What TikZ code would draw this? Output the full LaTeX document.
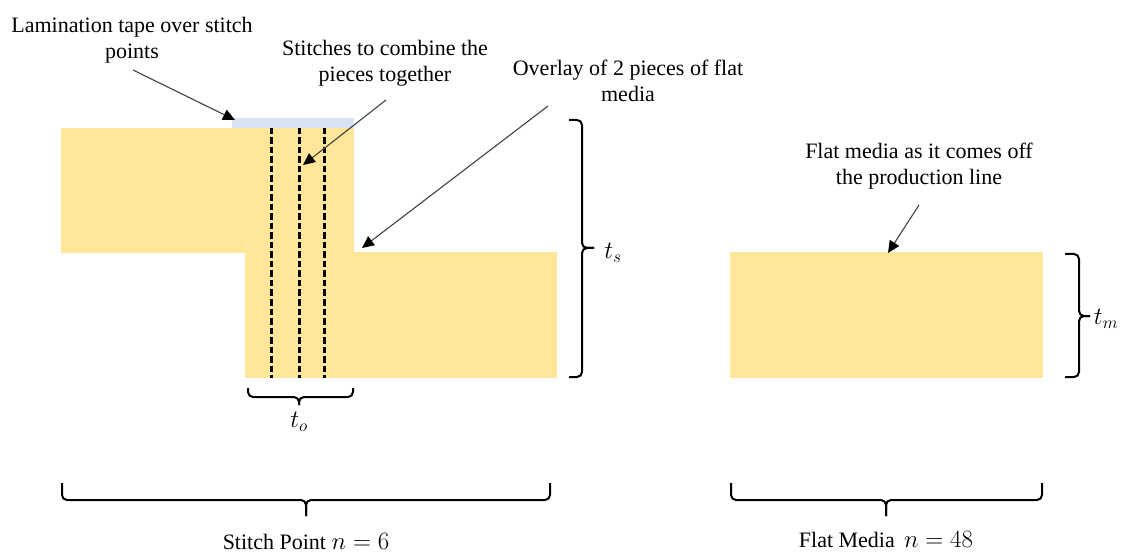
\documentclass[tikz,border=0pt]{standalone}
\usepackage{fontspec}
\setmainfont{Liberation Serif}
\usetikzlibrary{arrows.meta}
\definecolor{media}{HTML}{FFE699}
\definecolor{tape}{HTML}{DAE3F3}
\definecolor{leader}{HTML}{404040}
\newcommand{\bigmath}[1]{{\fontsize{25}{28}\selectfont$#1$}}
\begin{document}
\begin{tikzpicture}[x=1pt,y=-1pt,
  every node/.style={font=\fontsize{22}{26}\selectfont},
  lbl/.style={align=center, inner sep=0pt},
  mlbl/.style={font=\fontsize{25}{28}\selectfont},
  block/.style={fill=#1, draw=none, inner sep=0pt, anchor=north west},
  callout/.style={leader, line width=1.1pt, -{Triangle[length=12pt,width=11pt,black]}},
  stitchline/.style={black, line width=3pt, dash pattern=on 6.5pt off 3pt},
  brc/.style={black, line width=2pt, rounded corners=5pt},
]
\useasboundingbox (0,0) rectangle (1124,553);

% pieces
\node[block=media, minimum width=293pt, minimum height=125pt] (upper) at (61,128) {};
\node[block=media, minimum width=312pt, minimum height=126pt] (lower) at (245,252) {};
\node[block=tape, minimum width=122pt, minimum height=10pt] (tape) at (232,118) {};
\node[block=media, minimum width=313pt, minimum height=126pt] (flat) at (730,252) {};

% stitches
\coordinate (s1t) at (271,128); \coordinate (s1b) at (271,378);
\coordinate (s2t) at (299,128); \coordinate (s2b) at (299,378);
\coordinate (s3t) at (324,128); \coordinate (s3b) at (324,378);
\draw[stitchline] (s1t) -- (s1b);
\draw[stitchline] (s2t) -- (s2b);
\draw[stitchline] (s3t) -- (s3b);

% labels
\node[lbl, anchor=north] (lam) at (132,17) {Lamination tape over stitch\\points};
\node[lbl, anchor=north] (sti) at (385,40) {Stitches to combine the\\pieces together};
\node[lbl, anchor=north] (ovl) at (628,60) {Overlay of 2 pieces of flat\\media};
\node[lbl, anchor=north] (flm) at (919,143) {Flat media as it comes off\\the production line};

% callouts
\coordinate (lamS) at (133,70);  \coordinate (lamE) at (235,120);
\coordinate (stiS) at (386,100); \coordinate (stiE) at (303,165);
\coordinate (ovlS) at (548,106); \coordinate (ovlE) at (362,248);
\coordinate (flmS) at (919,205); \coordinate (flmE) at (888,253);
\draw[callout] (lamS) -- (lamE);
\draw[callout] (stiS) -- (stiE);
\draw[callout] (ovlS) -- (ovlE);
\draw[callout] (flmS) -- (flmE);

% braces
\draw[brc] (569,120) -| (582,248) -- (594,248);
\draw[brc] (569,377) -| (582,248) -- (594,248);
\node[mlbl] (ts) at (613,253) {$t_s$};

\draw[brc] (1065,254) -| (1079,316) -- (1090,316);
\draw[brc] (1065,377) -| (1079,316) -- (1090,316);
\node[mlbl] (tm) at (1106,319) {$t_m$};

\draw[brc] (248,388) |- (299,397) -- (299,405);
\draw[brc] (353,388) |- (299,397) -- (299,405);
\node[mlbl] (to) at (299,422) {$t_o$};

\draw[brc] (62,483) |- (306,500) -- (306,516);
\draw[brc] (550,483) |- (306,500) -- (306,516);
\node[anchor=base] (sp) at (306,549) {Stitch Point \bigmath{n = 6}};

\draw[brc] (731,483) |- (886,500) -- (886,516);
\draw[brc] (1042,483) |- (886,500) -- (886,516);
\node[anchor=base] (fm) at (886,547) {Flat Media \,\bigmath{n = 48}};
\end{tikzpicture}
\end{document}
